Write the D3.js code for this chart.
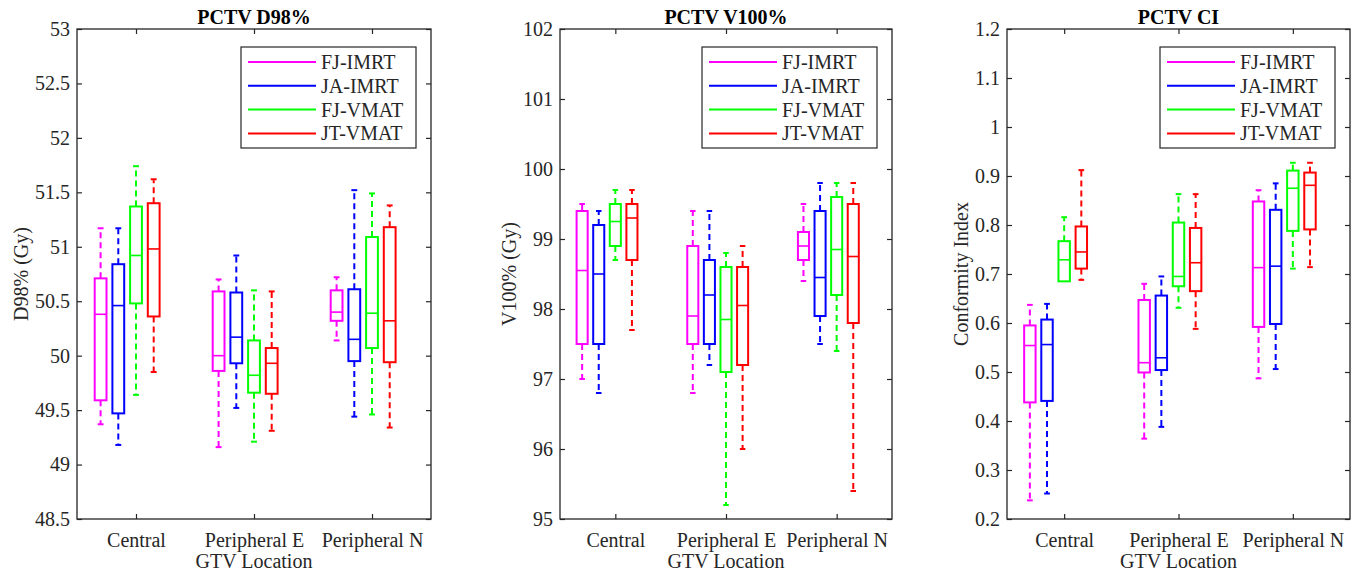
<!DOCTYPE html>
<html>
<head>
<meta charset="utf-8">
<script src="https://cdn.jsdelivr.net/npm/d3@7"></script>
<style>
  body { margin: 0; background: #fff; }
  svg { font-family: "Liberation Serif", "Times New Roman", serif; }
</style>
</head>
<body>
<svg id="chart"></svg>
<script>
const locations = ["Central", "Peripheral E", "Peripheral N"];
const plans = ["FJ-IMRT", "JA-IMRT", "FJ-VMAT", "JT-VMAT"];
const planColors = ["#ff00ff", "#0000ff", "#00ff00", "#ff0000"];

// [lower whisker, q1, median, q3, upper whisker] per plan, grouped by location
const d98Stats = [
  [[49.37, 49.59, 50.38, 50.71, 51.17], [49.18, 49.47, 50.46, 50.84, 51.17], [49.64, 50.48, 50.92, 51.37, 51.74], [49.85, 50.36, 50.98, 51.40, 51.62]],
  [[49.16, 49.86, 50.00, 50.59, 50.70], [49.52, 49.93, 50.17, 50.58, 50.92], [49.21, 49.66, 49.82, 50.14, 50.60], [49.31, 49.65, 49.93, 50.07, 50.59]],
  [[50.14, 50.32, 50.40, 50.60, 50.72], [49.44, 49.95, 50.15, 50.61, 51.52], [49.46, 50.07, 50.39, 51.09, 51.49], [49.34, 49.94, 50.32, 51.18, 51.38]]
];
const v100Stats = [
  [[97.0, 97.5, 98.55, 99.4, 99.5], [96.8, 97.5, 98.5, 99.2, 99.4], [98.7, 98.9, 99.25, 99.5, 99.7], [97.7, 98.7, 99.3, 99.5, 99.7]],
  [[96.8, 97.5, 97.9, 98.9, 99.4], [97.2, 97.5, 98.2, 98.7, 99.4], [95.2, 97.1, 97.85, 98.6, 98.8], [96.0, 97.2, 98.05, 98.6, 98.9]],
  [[98.4, 98.7, 98.9, 99.1, 99.5], [97.5, 97.9, 98.45, 99.4, 99.8], [97.4, 98.2, 98.85, 99.6, 99.8], [95.4, 97.8, 98.75, 99.5, 99.8]]
];
const ciStats = [
  [[0.238, 0.438, 0.554, 0.595, 0.637], [0.252, 0.441, 0.556, 0.607, 0.639], [0.685, 0.685, 0.729, 0.767, 0.816], [0.688, 0.711, 0.745, 0.797, 0.912]],
  [[0.364, 0.499, 0.519, 0.647, 0.680], [0.388, 0.504, 0.529, 0.656, 0.695], [0.631, 0.675, 0.695, 0.805, 0.863], [0.588, 0.665, 0.723, 0.794, 0.863]],
  [[0.487, 0.592, 0.713, 0.848, 0.871], [0.506, 0.598, 0.716, 0.831, 0.885], [0.711, 0.788, 0.875, 0.911, 0.927], [0.714, 0.791, 0.881, 0.907, 0.927]]
];

const d98Ticks = [48.5, 49, 49.5, 50, 50.5, 51, 51.5, 52, 52.5, 53];
const v100Ticks = [95, 96, 97, 98, 99, 100, 101, 102];
const ciTicks = [0.2, 0.3, 0.4, 0.5, 0.6, 0.7, 0.8, 0.9, 1, 1.1, 1.2];

const panels = [
  { title: "PCTV D98%", ylabel: "D98% (Gy)", stats: d98Stats, ticks: d98Ticks, left: 77, right: 431, ylabOff: 49 },
  { title: "PCTV V100%", ylabel: "V100% (Gy)", stats: v100Stats, ticks: v100Ticks, left: 560, right: 892, ylabOff: 44 },
  { title: "PCTV CI", ylabel: "Conformity Index", stats: ciStats, ticks: ciTicks, left: 1007, right: 1350, ylabOff: 39 }
];

const W = 1359, H = 573, plotTop = 29, plotBottom = 519;
const offsets = [-0.3, -0.15, 0, 0.15];
const boxW = 0.1;
const axisColor = "#262626";

const svg = d3.select("#chart").attr("width", W).attr("height", H);

panels.forEach(p => {
  const x = d3.scaleLinear().domain([0.5, 3.5]).range([p.left, p.right]);
  const y = d3.scaleLinear().domain(d3.extent(p.ticks)).range([plotBottom, plotTop]);
  const g = svg.append("g");

  // boxes
  p.stats.forEach((group, li) => {
    group.forEach((s, pi) => {
      const c = planColors[pi];
      const cx = li + 1 + offsets[pi];
      const [lo, q1, med, q3, hi] = s;
      const bg = g.append("g");
      if (hi > q3) {
        bg.append("line").attr("x1", x(cx)).attr("x2", x(cx)).attr("y1", y(q3)).attr("y2", y(hi))
          .attr("stroke", c).attr("stroke-width", 2).attr("stroke-dasharray", "6,4");
        bg.append("line").attr("x1", x(cx - boxW / 4)).attr("x2", x(cx + boxW / 4)).attr("y1", y(hi)).attr("y2", y(hi))
          .attr("stroke", c).attr("stroke-width", 2);
      }
      if (lo < q1) {
        bg.append("line").attr("x1", x(cx)).attr("x2", x(cx)).attr("y1", y(q1)).attr("y2", y(lo))
          .attr("stroke", c).attr("stroke-width", 2).attr("stroke-dasharray", "6,4");
        bg.append("line").attr("x1", x(cx - boxW / 4)).attr("x2", x(cx + boxW / 4)).attr("y1", y(lo)).attr("y2", y(lo))
          .attr("stroke", c).attr("stroke-width", 2);
      }
      bg.append("rect")
        .attr("x", x(cx - boxW / 2)).attr("y", y(q3))
        .attr("width", x(cx + boxW / 2) - x(cx - boxW / 2)).attr("height", y(q1) - y(q3))
        .attr("fill", "none").attr("stroke", c).attr("stroke-width", 2);
      bg.append("line").attr("x1", x(cx - boxW / 2)).attr("x2", x(cx + boxW / 2)).attr("y1", y(med)).attr("y2", y(med))
        .attr("stroke", c).attr("stroke-width", 1.6);
    });
  });

  // axes
  const styleAxis = sel => {
    sel.select(".domain").remove();
    sel.selectAll(".tick line").attr("stroke", axisColor).attr("stroke-width", 1.2);
    sel.selectAll(".tick text").attr("fill", axisColor).style("font-size", "20px")
      .style("font-family", "Liberation Serif, Times New Roman, serif");
  };
  g.append("g").attr("transform", `translate(${p.left},0)`)
    .call(d3.axisLeft(y).tickValues(p.ticks).tickFormat(d => d).tickSize(-5).tickPadding(7))
    .call(styleAxis);
  g.append("g").attr("transform", `translate(${p.right},0)`)
    .call(d3.axisRight(y).tickValues(p.ticks).tickFormat("").tickSize(-5))
    .call(styleAxis);
  g.append("g").attr("transform", `translate(0,${plotBottom})`)
    .call(d3.axisBottom(x).tickValues([1, 2, 3]).tickFormat((d, i) => locations[i]).tickSize(-5).tickPadding(14))
    .call(styleAxis);
  g.append("g").attr("transform", `translate(0,${plotTop})`)
    .call(d3.axisTop(x).tickValues([1, 2, 3]).tickFormat("").tickSize(-5))
    .call(styleAxis);

  g.append("rect").attr("x", p.left).attr("y", plotTop).attr("width", p.right - p.left).attr("height", plotBottom - plotTop)
    .attr("fill", "none").attr("stroke", axisColor).attr("stroke-width", 1.3);

  // titles and labels
  g.append("text").attr("x", (p.left + p.right) / 2).attr("y", 24).attr("text-anchor", "middle")
    .style("font-size", "20px").style("font-weight", "bold").attr("fill", "#000").text(p.title);
  g.append("text").attr("x", (p.left + p.right) / 2).attr("y", 568).attr("text-anchor", "middle")
    .style("font-size", "20px").attr("fill", axisColor).text("GTV Location");
  g.append("text")
    .attr("transform", `translate(${p.left - p.ylabOff},${(plotTop + plotBottom) / 2}) rotate(-90)`)
    .attr("text-anchor", "middle").style("font-size", "20px").attr("fill", axisColor).text(p.ylabel);

  // legend
  const lx = p.right - 190, ly = 47;
  const lg = g.append("g").attr("transform", `translate(${lx},${ly})`);
  lg.append("rect").attr("width", 175).attr("height", 101).attr("fill", "#fff")
    .attr("stroke", axisColor).attr("stroke-width", 1.2);
  plans.forEach((name, i) => {
    const yy = 15 + i * 23.8;
    lg.append("line").attr("x1", 7).attr("x2", 75).attr("y1", yy).attr("y2", yy)
      .attr("stroke", planColors[i]).attr("stroke-width", 2);
    lg.append("text").attr("x", 80).attr("y", yy).attr("dy", "0.35em")
      .style("font-size", "20px").attr("fill", axisColor).text(name);
  });
});
</script>
</body>
</html>
